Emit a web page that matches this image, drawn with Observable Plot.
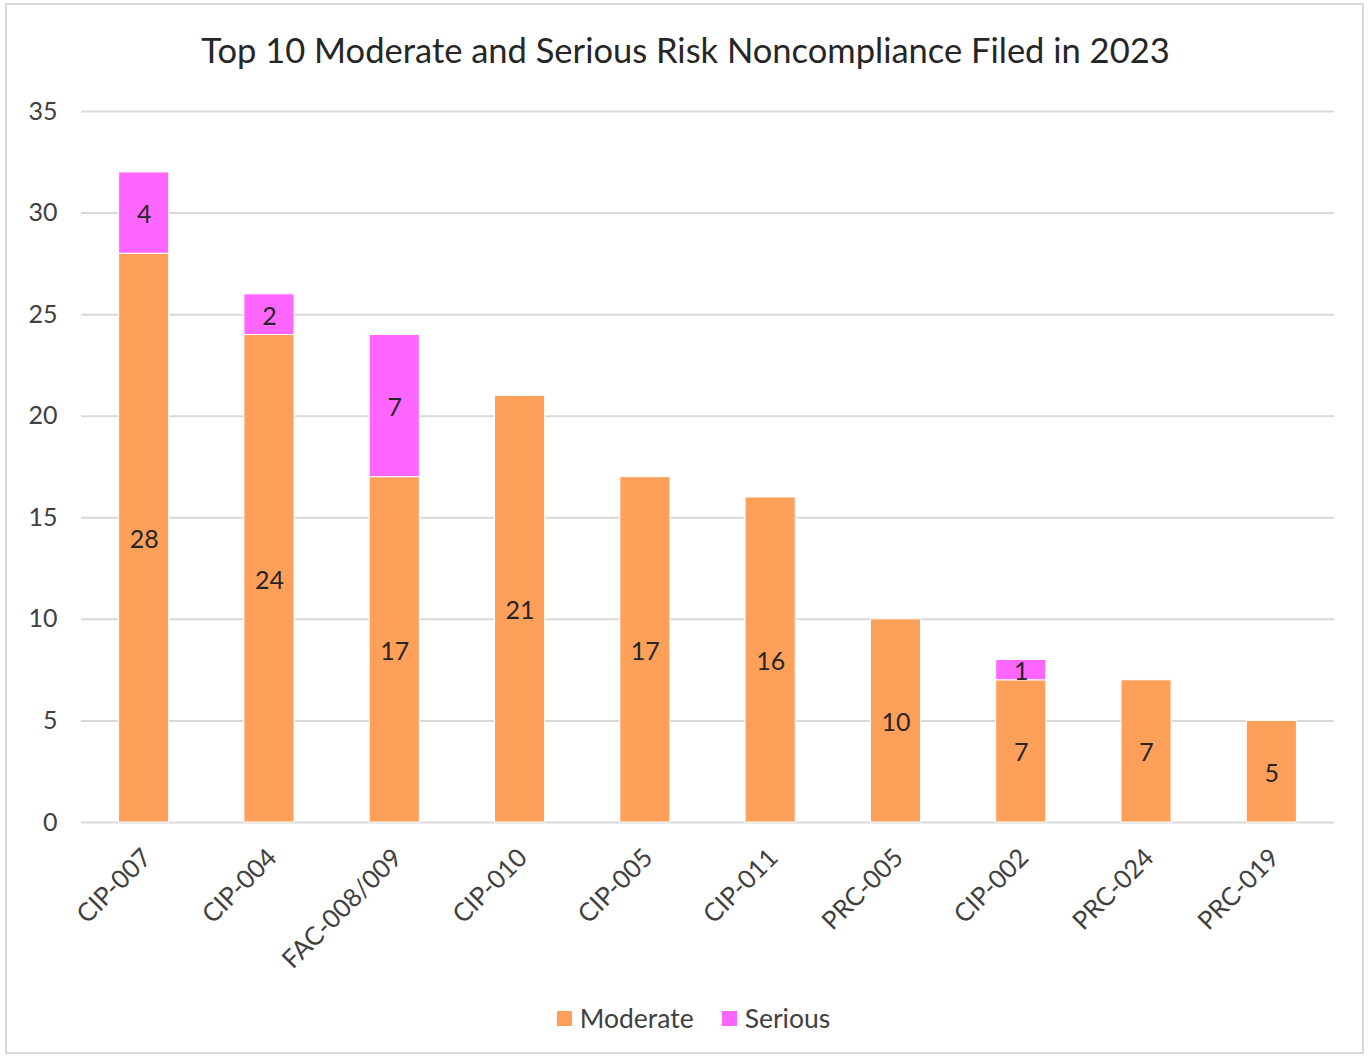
<!DOCTYPE html>
<html>
<head>
<meta charset="utf-8">
<script src="https://cdn.jsdelivr.net/npm/d3@7"></script>
<script src="https://cdn.jsdelivr.net/npm/@observablehq/plot@0.6"></script>
<style>
  html, body { margin: 0; padding: 0; background: #fff; }
  body { width: 1371px; height: 1059px; position: relative; overflow: hidden; font-family: Lato, "Noto Sans", sans-serif; }
  #frame { position: absolute; left: 5px; top: 3px; width: 1359px; height: 1051px; border: 2px solid #d9d9d9; box-sizing: border-box; }
  #title { position: absolute; left: 0; width: 1371px; top: 29px; text-align: center; font-size: 34.5px; color: #262626; line-height: 42px; }
  #chart { position: absolute; left: 0; top: 0; }
  #legend { position: absolute; top: 1002px; left: 8px; width: 1371px; display: flex; justify-content: center; font-size: 26.5px; color: #404040; }
  .item { display: flex; align-items: center; margin: 0 14px; }
  .sw { width: 15px; height: 15px; margin-right: 8px; }
</style>
</head>
<body>
<div id="frame"></div>
<div id="chart"></div>
<div id="title">Top 10 Moderate and Serious Risk Noncompliance Filed in 2023</div>
<div id="legend"></div>
<script>
const categories = ["CIP-007", "CIP-004", "FAC-008/009", "CIP-010", "CIP-005", "CIP-011", "PRC-005", "CIP-002", "PRC-024", "PRC-019"];
const moderate = [28, 24, 17, 21, 17, 16, 10, 7, 7, 5];
const serious = [4, 2, 7, 0, 0, 0, 0, 1, 0, 0];
const seriesNames = ["Moderate", "Serious"];
const seriesColors = ["#FFA05A", "#FF66FF"];
const yTicks = [0, 5, 10, 15, 20, 25, 30, 35];

const data = [];
categories.forEach((c, i) => {
  data.push({cat: c, series: "Moderate", value: moderate[i]});
  data.push({cat: c, series: "Serious", value: serious[i]});
});
const labeled = data.filter(d => d.value > 0);

const plot = Plot.plot({
  width: 1371,
  height: 980,
  marginLeft: 81,
  marginRight: 37,
  marginTop: 111,
  marginBottom: 158,
  style: {fontFamily: "Lato, 'Noto Sans', sans-serif", background: "transparent"},
  x: {domain: categories, paddingInner: 0.6, paddingOuter: 0.3, round: false, axis: null},
  y: {domain: [0, 35], axis: null},
  color: {domain: seriesNames, range: seriesColors},
  marks: [
    Plot.ruleY(yTicks, {stroke: "#d9d9d9", strokeWidth: 2}),
    Plot.barY(data, Plot.stackY({x: "cat", y: "value", fill: "series", order: seriesNames, stroke: "#fff", strokeWidth: 1})),
    Plot.text(labeled, Plot.stackY({x: "cat", y: "value", z: "series", order: seriesNames, text: d => String(d.value), fill: "#262626", fontSize: 25, dy: 2})),
    Plot.text(yTicks, {x: null, y: d => d, text: d => String(d), frameAnchor: "left", textAnchor: "end", dx: -24, fill: "#404040", fontSize: 25}),
    Plot.text(categories, {x: d => d, frameAnchor: "bottom", text: d => d, rotate: -45, textAnchor: "end", dx: 3, dy: 31, fill: "#404040", fontSize: 25.5, lineAnchor: "middle"})
  ]
});
document.getElementById("chart").appendChild(plot);

const legend = document.getElementById("legend");
seriesNames.forEach((s, i) => {
  const it = document.createElement("div");
  it.className = "item";
  const sw = document.createElement("div");
  sw.className = "sw";
  sw.style.background = seriesColors[i];
  it.appendChild(sw);
  const t = document.createElement("span");
  t.textContent = s;
  it.appendChild(t);
  legend.appendChild(it);
});
</script>
</body>
</html>
